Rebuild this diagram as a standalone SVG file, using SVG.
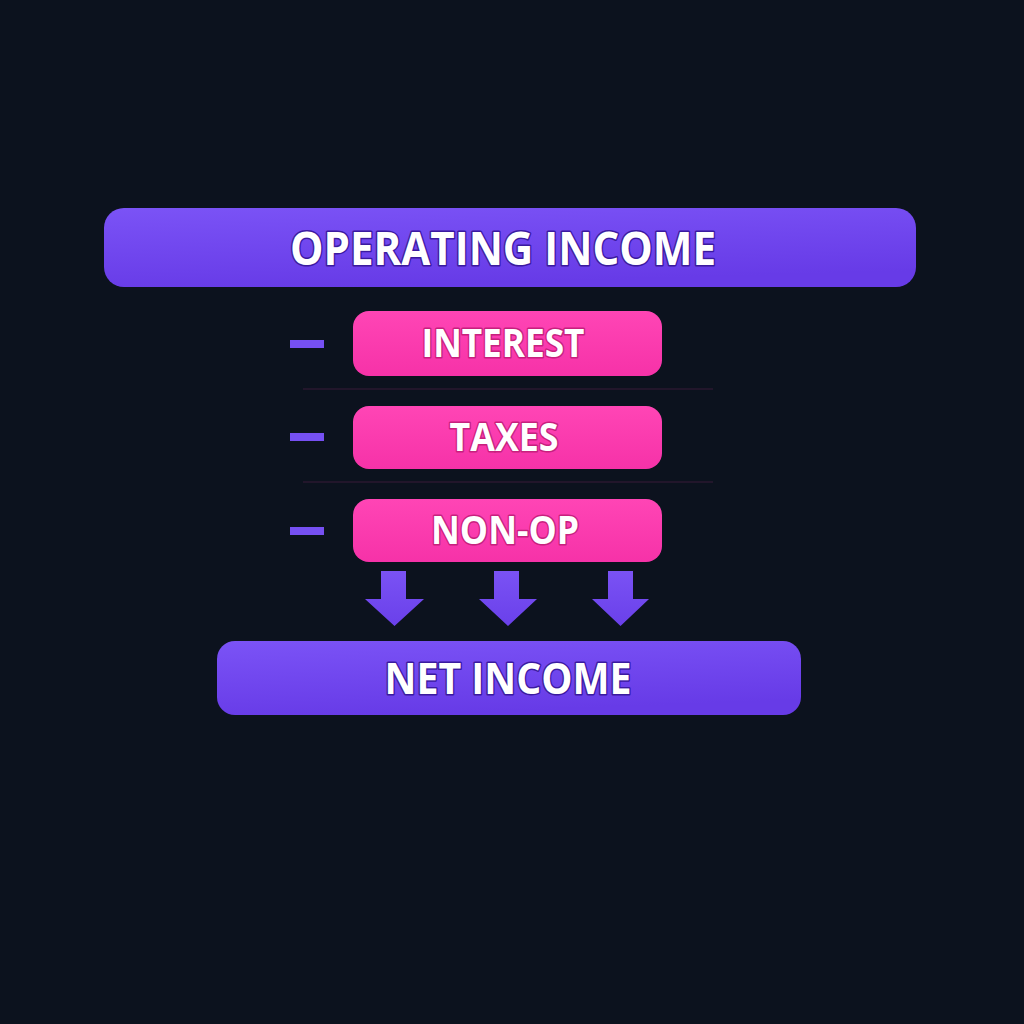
<svg xmlns="http://www.w3.org/2000/svg" width="1024" height="1024" viewBox="0 0 1024 1024">
<defs>
<linearGradient id="gPurple" x1="0" y1="0" x2="0.3" y2="1">
<stop offset="0" stop-color="#7b53f6"/>
<stop offset="1" stop-color="#673be7"/>
</linearGradient>
<linearGradient id="gPink" x1="0" y1="0" x2="0" y2="1">
<stop offset="0" stop-color="#ff45b5"/>
<stop offset="1" stop-color="#f632a8"/>
</linearGradient>
<linearGradient id="gArrow" x1="0" y1="0" x2="0" y2="1">
<stop offset="0" stop-color="#7a52f4"/>
<stop offset="1" stop-color="#6a40ea"/>
</linearGradient>
<style>
.lbl{font-family:"Open Sans","Noto Sans","Liberation Sans",sans-serif;font-weight:700;fill:#ffffff;text-anchor:middle;paint-order:stroke;stroke-linejoin:round}
.onP{stroke:#3b1aa0;stroke-width:3}
.onK{stroke:#c8207e;stroke-width:3}
.dash{fill:#7650f2}
.sep{stroke:#2a1830;stroke-width:1.5}
</style>
</defs>
<rect width="1024" height="1024" fill="#0c121e"/>
<g id="operating-income">
<rect x="104" y="208" width="812" height="79" rx="20" fill="url(#gPurple)"/>
<text class="lbl onP" x="503" y="265" font-size="46" textLength="426" lengthAdjust="spacingAndGlyphs">OPERATING INCOME</text>
</g>
<g id="interest">
<rect class="dash" x="290" y="340" width="34" height="8"/>
<rect x="353" y="311" width="309" height="65" rx="16" fill="url(#gPink)"/>
<text class="lbl onK" x="503" y="357" font-size="40" textLength="163" lengthAdjust="spacingAndGlyphs">INTEREST</text>
</g>
<line class="sep" x1="303" y1="389" x2="713" y2="389"/>
<g id="taxes">
<rect class="dash" x="290" y="433" width="34" height="8"/>
<rect x="353" y="406" width="309" height="63" rx="16" fill="url(#gPink)"/>
<text class="lbl onK" x="504" y="451" font-size="40" textLength="109" lengthAdjust="spacingAndGlyphs">TAXES</text>
</g>
<line class="sep" x1="303" y1="482" x2="713" y2="482"/>
<g id="non-op">
<rect class="dash" x="290" y="527" width="34" height="8"/>
<rect x="353" y="499" width="309" height="63" rx="16" fill="url(#gPink)"/>
<text class="lbl onK" x="505" y="544" font-size="40" textLength="148" lengthAdjust="spacingAndGlyphs">NON-OP</text>
</g>
<g id="connectors">
<path d="M381 571 H406 V599 H424 L394.5 626 L365 599 H381 Z" fill="url(#gArrow)"/>
<path d="M494 571 H519 V599 H537 L508 626 L479 599 H494 Z" fill="url(#gArrow)"/>
<path d="M608 571 H633 V599 H649 L620.5 626 L592 599 H608 Z" fill="url(#gArrow)"/>
</g>
<g id="net-income">
<rect x="217" y="641" width="584" height="74" rx="18" fill="url(#gPurple)"/>
<text class="lbl onP" x="508" y="694" font-size="43" textLength="247" lengthAdjust="spacingAndGlyphs">NET INCOME</text>
</g>
</svg>
